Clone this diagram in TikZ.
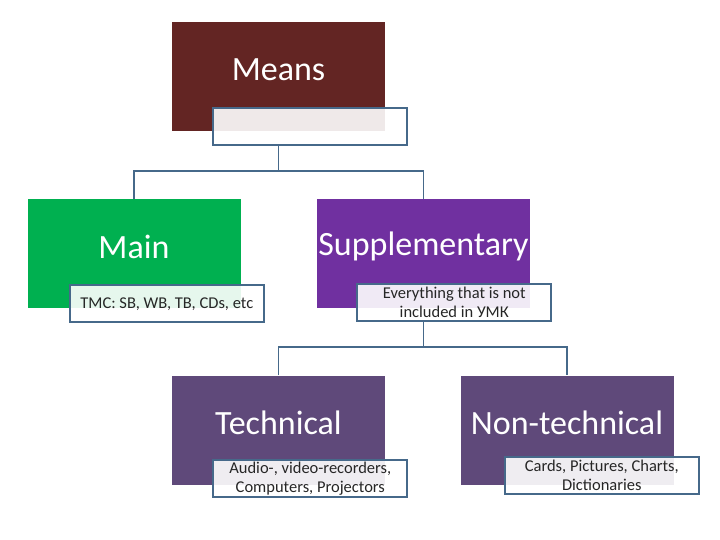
\documentclass[tikz,border=0pt]{standalone}
\usepackage{fontspec}
\setmainfont{Carlito}
\usepackage{xcolor}
\usetikzlibrary{positioning, calc}

\definecolor{meanscol}{HTML}{632523}
\definecolor{maincol}{HTML}{00B050}
\definecolor{suppcol}{HTML}{7030A0}
\definecolor{techcol}{HTML}{5F497A}
\definecolor{linecol}{HTML}{46698A}

\tikzset{
  catbox/.style={rectangle, minimum width=213pt, minimum height=109pt, inner sep=0pt},
  catlabel/.style={text=white, font=\fontsize{34}{36}\selectfont},
  notebox/.style={rectangle, draw=linecol, line width=1.8pt, fill=white, fill opacity=0.9,
    text opacity=1, minimum width=194pt, minimum height=37pt, inner sep=1pt,
    align=center, font=\fontsize{16.5}{19}\selectfont, text=black!85, anchor=south east},
  link/.style={draw=linecol, line width=1.8pt}
}

\begin{document}
\begin{tikzpicture}[x=1pt, y=-1pt]
  \useasboundingbox (0,0) rectangle (720,540);

  \node[catbox, fill=meanscol] (means)   at (278.5,77)  {};
  \node[catbox, fill=maincol]  (main)    at (134,253.5) {};
  \node[catbox, fill=suppcol]  (supp)    at (423.5,253.5) {};
  \node[catbox, fill=techcol]  (tech)    at (278.5,430) {};
  \node[catbox, fill=techcol]  (nontech) at (567,430)   {};

  \node[catlabel] (meanslbl)   at ($(means.center)+(0,-7)$)   {Means};
  \node[catlabel] (mainlbl)    at ($(main.center)+(0,-7)$)    {Main};
  \node[catlabel] (supplbl)    at ($(supp.center)+(0,-7)$)    {Supplementary};
  \node[catlabel] (techlbl)    at ($(tech.center)+(0,-7)$)    {Technical};
  \node[catlabel] (nontechlbl) at ($(nontech.center)+(0,-7)$) {Non-technical};

  \node[notebox] (meansnote)   at ($(means.south east)+(23,14)$)   {};
  \node[notebox] (mainnote)    at ($(main.south east)+(24,15)$)    {TMC: SB, WB, TB, CDs, etc};
  \node[notebox] (suppnote)    at ($(supp.south east)+(22,14)$)    {Everything that is not\\included in  УМК};
  \node[notebox] (technote)    at ($(tech.south east)+(23,13)$)    {Audio-, video-recorders,\\Computers, Projectors};
  \node[notebox] (nontechnote) at ($(nontech.south east)+(26,10)$) {Cards, Pictures, Charts,\\Dictionaries};

  % tree links
  \draw[link] (main.north) -- ++(0,-28) coordinate (fork1) -| (supp.north);
  \draw[link] (meansnote.south -| means.center) -- (fork1 -| means.center);
  \draw[link] (tech.north) -- ++(0,-28) coordinate (fork2) -| (nontech.north);
  \draw[link] (suppnote.south -| supp.center) -- (fork2 -| supp.center);
\end{tikzpicture}
\end{document}
